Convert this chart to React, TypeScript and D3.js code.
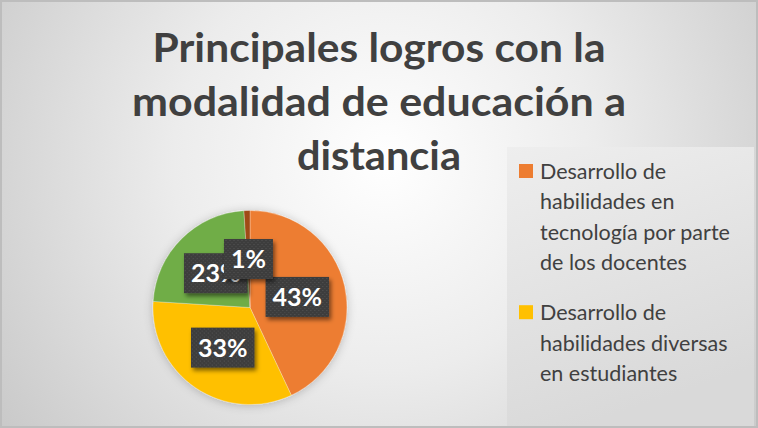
import { useEffect, useRef } from 'react';
import * as d3 from 'd3';

// slices, clockwise from 12 o'clock
const categories = [
  'Desarrollo de habilidades en tecnología por parte de los docentes',
  'Desarrollo de habilidades diversas en estudiantes',
  'Otros logros',
  'Sin respuesta',
];
const values = [43, 33, 23, 1];
const colors = ['#ED7D31', '#FFC000', '#70AD47', '#A04B14'];

const titleLines = ['Principales logros con la', 'modalidad de educación a', 'distancia'];
const titleWidths = [453, 494, 164];

// legend shows only the first two entries (cut off by the box)
const legendItems = [
  ['Desarrollo de', 'habilidades en', 'tecnología por parte', 'de los docentes'],
  ['Desarrollo de', 'habilidades diversas', 'en estudiantes'],
];

const App = () => {
  const svgRef = useRef<SVGSVGElement>(null);

  useEffect(() => {
    if (!svgRef.current) return;
    d3.select(svgRef.current).selectAll('*').remove();

    const width = 758;
    const height = 428;
    const font = 'Lato, "Open Sans", sans-serif';

    const svg = d3.select(svgRef.current).attr('width', width).attr('height', height);
    const defs = svg.append('defs');

    // background gradient
    const bg = defs
      .append('radialGradient')
      .attr('id', 'bg-grad')
      .attr('gradientUnits', 'userSpaceOnUse')
      .attr('cx', 385)
      .attr('cy', 160)
      .attr('r', 470);
    bg.append('stop').attr('offset', '0%').attr('stop-color', '#ffffff');
    bg.append('stop').attr('offset', '45%').attr('stop-color', '#ececec');
    bg.append('stop').attr('offset', '100%').attr('stop-color', '#c9c9c9');

    const lg = defs
      .append('linearGradient')
      .attr('id', 'legend-grad')
      .attr('x1', '0%')
      .attr('y1', '0%')
      .attr('x2', '30%')
      .attr('y2', '100%');
    lg.append('stop').attr('offset', '0%').attr('stop-color', '#eeeeee');
    lg.append('stop').attr('offset', '100%').attr('stop-color', '#d9d9d9');

    const pieShadow = defs
      .append('filter')
      .attr('id', 'pie-shadow')
      .attr('x', '-20%')
      .attr('y', '-20%')
      .attr('width', '140%')
      .attr('height', '140%');
    pieShadow
      .append('feDropShadow')
      .attr('dx', 0)
      .attr('dy', 1)
      .attr('stdDeviation', 5)
      .attr('flood-color', '#000')
      .attr('flood-opacity', 0.22);

    const boxShadow = defs
      .append('filter')
      .attr('id', 'box-shadow')
      .attr('x', '-20%')
      .attr('y', '-20%')
      .attr('width', '150%')
      .attr('height', '150%');
    boxShadow
      .append('feDropShadow')
      .attr('dx', 2)
      .attr('dy', 3)
      .attr('stdDeviation', 2)
      .attr('flood-color', '#000')
      .attr('flood-opacity', 0.5);

    const dots = defs
      .append('pattern')
      .attr('id', 'dots')
      .attr('width', 4)
      .attr('height', 4)
      .attr('patternUnits', 'userSpaceOnUse');
    dots.append('rect').attr('width', 4).attr('height', 4).attr('fill', '#3d3d3d');
    dots.append('rect').attr('x', 1).attr('y', 1).attr('width', 1).attr('height', 1).attr('fill', '#575757');
    dots.append('rect').attr('x', 3).attr('y', 3).attr('width', 1).attr('height', 1).attr('fill', '#4d4d4d');

    svg
      .append('rect')
      .attr('x', 1)
      .attr('y', 1)
      .attr('width', width - 2)
      .attr('height', height - 2)
      .attr('fill', 'url(#bg-grad)')
      .attr('stroke', '#bdbdbd')
      .attr('stroke-width', 2);

    // Title
    svg
      .append('g')
      .selectAll('text')
      .data(titleLines)
      .join('text')
      .attr('x', 379)
      .attr('y', (_, i) => 62 + i * 54)
      .attr('text-anchor', 'middle')
      .attr('font-family', font)
      .attr('font-size', 41)
      .attr('font-weight', 'bold')
      .attr('fill', '#404040')
      .attr('textLength', (_, i) => titleWidths[i])
      .attr('lengthAdjust', 'spacingAndGlyphs')
      .text((d) => d);

    // Legend
    const legend = svg.append('g');
    legend
      .append('rect')
      .attr('x', 507)
      .attr('y', 147)
      .attr('width', 247)
      .attr('height', 279)
      .attr('fill', 'url(#legend-grad)');

    let lineY = 179;
    legendItems.forEach((lines, i) => {
      legend
        .append('rect')
        .attr('x', 519)
        .attr('y', lineY - 15)
        .attr('width', 14)
        .attr('height', 14)
        .attr('fill', colors[i]);
      lines.forEach((line) => {
        legend
          .append('text')
          .attr('x', 540)
          .attr('y', lineY)
          .attr('font-family', font)
          .attr('font-size', 21.5)
          .attr('fill', '#404040')
          .text(line);
        lineY += 30.3;
      });
      lineY += 20;
    });

    // Pie
    const cx = 250;
    const cy = 307.5;
    const radius = 97;

    const pie = d3
      .pie<number>()
      .sort(null)
      .value((d) => d);
    const arcs = pie(values);
    const arc = d3.arc<d3.PieArcDatum<number>>().innerRadius(0).outerRadius(radius);

    const pieG = svg.append('g').attr('transform', `translate(${cx},${cy})`);
    pieG
      .append('g')
      .attr('filter', 'url(#pie-shadow)')
      .selectAll('path')
      .data(arcs)
      .join('path')
      .attr('d', arc)
      .attr('fill', (_, i) => colors[i])
      .attr('stroke', 'rgba(255,255,255,0.35)')
      .attr('stroke-width', 0.8);

    // Data labels (the 1% box sits over the 23% one, as in the source)
    const total = d3.sum(values);
    arcs.forEach((a) => {
      const [lx, ly] = arc.centroid(a);
      const label = `${Math.round((a.data / total) * 100)}%`;
      const g = pieG.append('g').attr('transform', `translate(${lx},${ly})`);
      const rect = g.append('rect').attr('fill', 'url(#dots)').attr('filter', 'url(#box-shadow)');
      const t = g
        .append('text')
        .attr('text-anchor', 'middle')
        .attr('dy', '0.36em')
        .attr('font-family', font)
        .attr('font-size', 25)
        .attr('font-weight', 'bold')
        .attr('fill', '#ffffff')
        .text(label);
      const w = (t.node() as SVGTextElement).getComputedTextLength() + 14;
      rect
        .attr('x', -w / 2)
        .attr('y', -20)
        .attr('width', w)
        .attr('height', 40);
    });
  }, []);

  return (
    <div style={{ position: 'absolute', left: 0, top: 0 }}>
      <svg ref={svgRef} style={{ display: 'block' }} />
    </div>
  );
};

export default App;
